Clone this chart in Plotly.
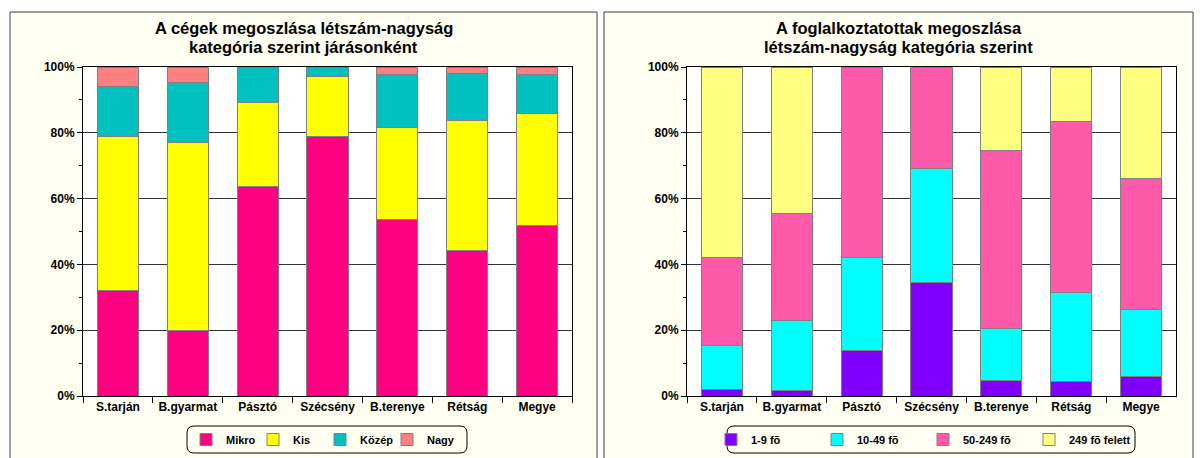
import plotly.graph_objects as go

W, H = 1204, 458

# ---------------- data ----------------
districts = ["S.tarján", "B.gyarmat", "Pásztó", "Szécsény", "B.terenye", "Rétság", "Megye"]

# left chart: distribution of firms by size category (%)
firm_names = ["Mikro", "Kis", "Közép", "Nagy"]
mikro = [32.2, 20.0, 63.6, 78.8, 53.5, 44.2, 51.7]
kis = [46.6, 57.0, 25.7, 18.4, 28.1, 39.6, 34.2]
kozep = [15.2, 18.2, 10.4, 2.8, 16.1, 14.3, 11.8]
nagy = [6.0, 4.8, 0.3, 0.0, 2.3, 1.9, 2.3]

# right chart: distribution of employees by size category (%)
emp_names = ["1-9 fõ", "10-49 fõ", "50-249 fõ", "249 fõ felett"]
emp_1_9 = [2.0, 1.6, 13.8, 34.6, 4.6, 4.3, 5.8]
emp_10_49 = [13.5, 21.5, 28.4, 34.4, 16.0, 27.3, 20.6]
emp_50_249 = [26.7, 32.4, 57.8, 31.0, 54.1, 51.7, 39.8]
emp_249p = [57.8, 44.5, 0.0, 0.0, 25.3, 16.7, 33.8]

y_ticks = [0, 20, 40, 60, 80, 100]
y_tick_labels = ["0%", "20%", "40%", "60%", "80%", "100%"]

title_left = ["A cégek megoszlása létszám-nagyság", "kategória szerint járásonként"]
title_right = ["A foglalkoztatottak megoszlása", "létszám-nagyság kategória szerint"]

firm_colors = ["#FF0080", "#FFFF00", "#00C0C0", "#FF8080"]
emp_colors = ["#8000FF", "#00FFFF", "#FF5AAA", "#FFFF80"]

FONT = "Liberation Sans, Arial, sans-serif"

# ---------------- helpers (pixel -> paper) ----------------
def px(x):
    return x / W

def py(y):
    return (H - y) / H

def rounded_path(x0, y0, x1, y1, r):
    X0, X1 = px(x0), px(x1)
    Y0, Y1 = py(y0), py(y1)
    rx, ry = r / W, r / H
    return (f"M {X0+rx},{Y0} L {X1-rx},{Y0} Q {X1},{Y0} {X1},{Y0-ry} "
            f"L {X1},{Y1+ry} Q {X1},{Y1} {X1-rx},{Y1} "
            f"L {X0+rx},{Y1} Q {X0},{Y1} {X0},{Y1+ry} "
            f"L {X0},{Y0-ry} Q {X0},{Y0} {X0+rx},{Y0} Z")

fig = go.Figure()

left_vals = [mikro, kis, kozep, nagy]
for name, vals, col in zip(firm_names, left_vals, firm_colors):
    fig.add_trace(go.Bar(x=districts, y=vals, name=name, marker=dict(color=col, line=dict(color="#808080", width=1)),
                         xaxis="x", yaxis="y", legend="legend"))

right_vals = [emp_1_9, emp_10_49, emp_50_249, emp_249p]
for name, vals, col in zip(emp_names, right_vals, emp_colors):
    fig.add_trace(go.Bar(x=districts, y=vals, name=name, marker=dict(color=col, line=dict(color="#808080", width=1)),
                         xaxis="x2", yaxis="y2", legend="legend2"))

plot_top, plot_bot = 67, 396
L = (83, 572)
R = (687, 1176)

axis_common_x = dict(
    type="category", range=[-0.5, 6.5], showline=True, linecolor="#000", linewidth=1, mirror=True,
    ticks="outside", tickson="boundaries", ticklen=6, tickcolor="#000", showgrid=False, automargin=False,
    tickfont=dict(family=FONT, size=12, color="#000", weight="bold"), fixedrange=True,
)
axis_common_y = dict(
    range=[0, 100], tickmode="array", tickvals=y_ticks, ticktext=y_tick_labels,
    showline=True, linecolor="#000", linewidth=1, mirror=True, automargin=False,
    ticks="outside", ticklen=5, tickcolor="#000", showgrid=True, gridcolor="#333333", gridwidth=1,
    zeroline=False,
    minor=dict(tickmode="array", tickvals=[10, 30, 50, 70, 90], ticks="outside", ticklen=3,
               tickcolor="#000", showgrid=False),
    tickfont=dict(family=FONT, size=12, color="#000", weight="bold"), fixedrange=True,
)

fig.update_layout(
    width=W, height=H, autosize=False,
    margin=dict(l=0, r=0, t=0, b=0, pad=0, autoexpand=False),
    paper_bgcolor="#FFFFFF", plot_bgcolor="#FFFFFF",
    barmode="stack", bargap=0.41,
    showlegend=True,
    xaxis=dict(domain=[px(L[0]), px(L[1])], anchor="y", **axis_common_x),
    yaxis=dict(domain=[py(plot_bot), py(plot_top)], anchor="x", **axis_common_y),
    xaxis2=dict(domain=[px(R[0]), px(R[1])], anchor="y2", **axis_common_x),
    yaxis2=dict(domain=[py(plot_bot), py(plot_top)], anchor="x2", **axis_common_y),
    legend=dict(orientation="h", x=px(320), xanchor="center", y=py(439.5), yanchor="middle",
                bgcolor="rgba(0,0,0,0)", borderwidth=0, traceorder="normal",
                entrywidth=22, entrywidthmode="pixels",
                font=dict(family=FONT, size=11, color="#000", weight="bold")),
    legend2=dict(orientation="h", x=px(923), xanchor="center", y=py(439.5), yanchor="middle",
                 bgcolor="rgba(0,0,0,0)", borderwidth=0, traceorder="normal",
                 entrywidth=61, entrywidthmode="pixels",
                 font=dict(family=FONT, size=11, color="#000", weight="bold")),
)

shapes = []
for x0, x1 in [(10, 597), (604, 1193)]:
    shapes.append(dict(type="rect", xref="paper", yref="paper", x0=px(x0), x1=px(x1), y0=py(460), y1=py(12),
                       fillcolor="#FFFFF2", line=dict(color="#404040", width=1), layer="below"))
for xr, yr in [("x", "y"), ("x2", "y2")]:
    shapes.append(dict(type="rect", xref=xr, yref=yr, x0=-0.5, x1=6.5, y0=0, y1=100,
                       fillcolor="#FFFFFF", line=dict(width=0), layer="below"))
shapes.append(dict(type="path", xref="paper", yref="paper", path=rounded_path(187, 426, 467, 453, 7),
                   line=dict(color="#000", width=1), fillcolor="rgba(0,0,0,0)", layer="above"))
shapes.append(dict(type="path", xref="paper", yref="paper", path=rounded_path(727, 426, 1135, 453, 7),
                   line=dict(color="#000", width=1), fillcolor="rgba(0,0,0,0)", layer="above"))
fig.update_layout(shapes=shapes)

for cx, lines in [(303.5, title_left), (898.5, title_right)]:
    for ly, txt in zip([28, 47], lines):
        fig.add_annotation(x=px(cx), y=py(ly), xref="paper", yref="paper", xanchor="center", yanchor="middle",
                           text=txt, showarrow=False, align="center",
                           font=dict(family=FONT, size=16.5, color="#000", weight="bold"))

fig.write_html(
    "out.html",
    config={"displayModeBar": False, "responsive": False},
    post_script="document.documentElement.style.margin='0';document.body.style.margin='0';"
                "document.documentElement.style.overflow='hidden';document.body.style.overflow='hidden';",
)
